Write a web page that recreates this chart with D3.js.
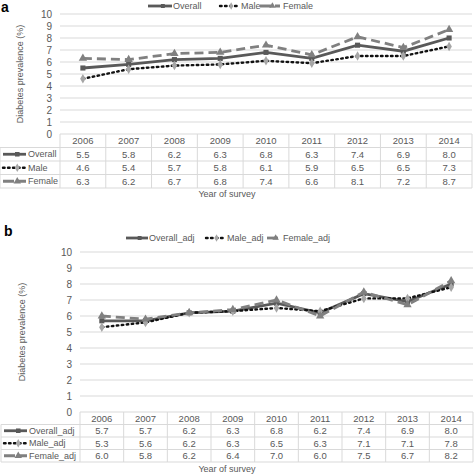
<!DOCTYPE html>
<html><head><meta charset="utf-8">
<script src="https://cdn.jsdelivr.net/npm/d3@7"></script>
<style>
html,body{margin:0;padding:0;background:#fff;}
svg{display:block;font-family:"Liberation Sans",Arial,sans-serif;}
</style></head>
<body>
<svg id="chart" width="474" height="474"></svg>
<script>
const years = ["2006","2007","2008","2009","2010","2011","2012","2013","2014"];
const yTicks = [0,1,2,3,4,5,6,7,8,9,10];
const overallA = [5.5,5.8,6.2,6.3,6.8,6.3,7.4,6.9,8.0];
const maleA    = [4.6,5.4,5.7,5.8,6.1,5.9,6.5,6.5,7.3];
const femaleA  = [6.3,6.2,6.7,6.8,7.4,6.6,8.1,7.2,8.7];
const overallB = [5.7,5.7,6.2,6.3,6.8,6.2,7.4,6.9,8.0];
const maleB    = [5.3,5.6,6.2,6.3,6.5,6.3,7.1,7.1,7.8];
const femaleB  = [6.0,5.8,6.2,6.4,7.0,6.0,7.5,6.7,8.2];
const namesA = ["Overall","Male","Female"];
const namesB = ["Overall_adj","Male_adj","Female_adj"];

const svg = d3.select("#chart");
const TXT = "#595959", GRID = "#d9d9d9";
const styles = [
  {stroke:"#595959", width:2.8, dash:null, mark:d3.symbolSquare, mfill:"#595959", msize:26},
  {stroke:"#111111", width:2.4, dash:"1.6 3.4", mark:d3.symbolDiamond, mfill:"#a6a6a6", msize:26},
  {stroke:"#808080", width:2.8, dash:"9 5", mark:d3.symbolTriangle, mfill:"#808080", msize:30}
];

function panel(cfg){
  const g = svg.append("g");
  const x = d3.scaleBand().domain(years).range([cfg.x0, cfg.x1]);
  const y = d3.scaleLinear().domain([0,10]).range([cfg.yBot, cfg.yTop]);
  g.append("g").selectAll("line").data(yTicks.filter(t=>t>0)).join("line")
    .attr("x1",cfg.x0).attr("x2",cfg.x1).attr("y1",d=>y(d)).attr("y2",d=>y(d))
    .attr("stroke",GRID).attr("stroke-width",1);
  const ax = g.append("g").attr("transform",`translate(${cfg.x0},0)`)
    .call(d3.axisLeft(y).tickValues(yTicks).tickSize(0).tickPadding(cfg.tickPad));
  ax.select(".domain").remove();
  ax.selectAll("text").attr("fill",TXT).attr("font-size",10).attr("font-family","Liberation Sans, Arial, sans-serif");
  g.append("text").attr("transform",`translate(${cfg.titleX},${(cfg.yTop+cfg.yBot)/2}) rotate(-90)`)
    .attr("text-anchor","middle").attr("dy","0.35em").attr("fill",TXT).attr("font-size",9)
    .text("Diabetes prevalence (%)");
  cfg.series.forEach((vals,i)=>{
    const st = styles[i];
    const line = d3.line().x((d,j)=>x(years[j])+x.bandwidth()/2).y(d=>y(d));
    g.append("path").datum(vals).attr("d",line).attr("fill","none")
      .attr("stroke",st.stroke).attr("stroke-width",st.width)
      .attr("stroke-dasharray",st.dash).attr("stroke-linecap", i===1?"round":"butt");
    g.append("g").selectAll("path").data(vals).join("path")
      .attr("d",d3.symbol().type(st.mark).size(st.msize))
      .attr("transform",(d,j)=>`translate(${x(years[j])+x.bandwidth()/2},${y(d)})`)
      .attr("fill",st.mfill);
  });
  cfg.legend.forEach((L,i)=>{
    const st = styles[i];
    drawSample(g, L.x, L.y, L.len, st, i, 0.6);
    g.append("text").attr("x",L.tx).attr("y",L.y).attr("dy","0.35em")
      .attr("fill",TXT).attr("font-size",9).text(cfg.names[i]);
  });
  const rowH = cfg.rowH;
  const tb = g.append("g");
  tb.append("line").attr("x1",cfg.x0).attr("x2",cfg.x1).attr("y1",cfg.yBot).attr("y2",cfg.yBot).attr("stroke",GRID);
  for(let r=1;r<=4;r++){
    tb.append("line").attr("x1",cfg.tx0).attr("x2",cfg.x1).attr("y1",cfg.yBot+r*rowH).attr("y2",cfg.yBot+r*rowH).attr("stroke",GRID);
  }
  tb.selectAll("line.v").data(years).join("line").attr("class","v")
    .attr("x1",d=>x(d)).attr("x2",d=>x(d)).attr("y1",cfg.yBot).attr("y2",cfg.yBot+4*rowH).attr("stroke",GRID);
  tb.append("line").attr("x1",cfg.x1).attr("x2",cfg.x1).attr("y1",cfg.yBot).attr("y2",cfg.yBot+4*rowH).attr("stroke",GRID);
  tb.append("line").attr("x1",cfg.tx0).attr("x2",cfg.tx0).attr("y1",cfg.yBot+rowH).attr("y2",cfg.yBot+4*rowH).attr("stroke",GRID);
  tb.selectAll("text.h").data(years).join("text").attr("class","h")
    .attr("x",d=>x(d)+x.bandwidth()/2).attr("y",cfg.yBot+rowH/2).attr("dy","0.35em")
    .attr("text-anchor","middle").attr("fill",TXT).attr("font-size",9.5).text(d=>d);
  cfg.series.forEach((vals,i)=>{
    const cy = cfg.yBot+(i+1.5)*rowH;
    tb.append("g").selectAll("text").data(vals).join("text")
      .attr("x",(d,j)=>x(years[j])+x.bandwidth()/2).attr("y",cy).attr("dy","0.35em")
      .attr("text-anchor","middle").attr("fill",TXT).attr("font-size",9.5).text(d=>d.toFixed(1));
    drawSample(tb, cfg.tx0+3, cy, 23, styles[i], i, 0.8);
    tb.append("text").attr("x",cfg.tx0+28).attr("y",cy).attr("dy","0.35em")
      .attr("fill",TXT).attr("font-size",9).text(cfg.names[i]);
  });
  g.append("text").attr("x",227).attr("y",cfg.xTitleY).attr("dy","0.35em").attr("text-anchor","middle")
    .attr("fill",TXT).attr("font-size",9).text("Year of survey");
  g.append("text").attr("x",cfg.labelX).attr("y",cfg.labelY).attr("font-weight","bold")
    .attr("font-size",14).attr("fill","#000").text(cfg.label);
}

function drawSample(g, x0, cy, len, st, i, ms){
  g.append("line").attr("x1",x0).attr("x2",x0+len).attr("y1",cy).attr("y2",cy)
    .attr("stroke",st.stroke).attr("stroke-width",st.width)
    .attr("stroke-dasharray", i===1 ? "1.6 3.4" : (i===2 ? "11 4" : null))
    .attr("stroke-linecap", i===1?"round":"butt");
  g.append("path").attr("d",d3.symbol().type(st.mark).size(st.msize*ms))
    .attr("transform",`translate(${x0+len*0.62},${cy})`).attr("fill",st.mfill);
}

panel({
  series:[overallA,maleA,femaleA], names:namesA,
  x0:60, x1:472, yTop:14, yBot:134, tickPad:8, titleX:20, tx0:0, rowH:13.5,
  xTitleY:194, label:"a", labelX:1, labelY:12,
  legend:[{x:148,y:6,len:24,tx:173},{x:220,y:6,len:18,tx:241},{x:260,y:6,len:20,tx:283}]
});
panel({
  series:[overallB,maleB,femaleB], names:namesB,
  x0:80, x1:473, yTop:252, yBot:412, tickPad:8, titleX:22, tx0:1, rowH:12.5,
  xTitleY:469, label:"b", labelX:4, labelY:236,
  legend:[{x:126,y:238,len:22,tx:149},{x:206,y:238,len:17,tx:227},{x:267,y:238,len:14,tx:283}]
});
</script>
</body></html>
